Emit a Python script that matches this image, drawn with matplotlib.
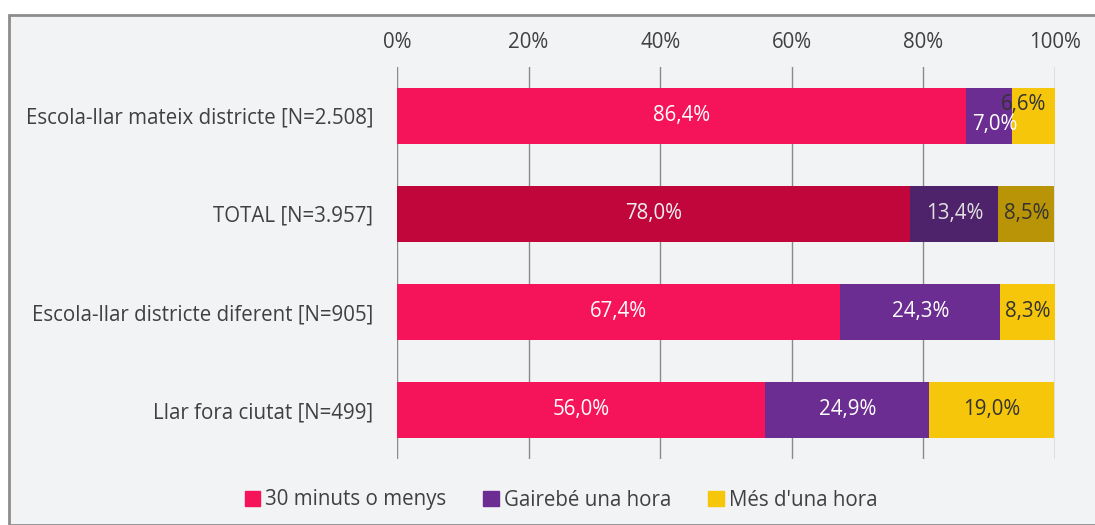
import numpy as np
import matplotlib.pyplot as plt
from matplotlib.patches import Rectangle

plt.rcParams['font.family'] = ['Open Sans', 'DejaVu Sans']

categories = ["Escola-llar mateix districte [N=2.508]", "TOTAL [N=3.957]",
              "Escola-llar districte diferent [N=905]", "Llar fora ciutat [N=499]"]
series = ["30 minuts o menys", "Gairebé una hora", "Més d'una hora"]
menys30 = [86.4, 78.0, 67.4, 56.0]
una_hora = [7.0, 13.4, 24.3, 24.9]
mes_hora = [6.6, 8.5, 8.3, 19.0]
xticks = [0, 20, 40, 60, 80, 100]

colors = ['#f5145a', '#6b2d91', '#f5c60a']
total_colors = ['#c0063a', '#4f236b', '#b89406']
text_colors = ['white', 'white', '#333333']
fs = 14.8

fig = plt.figure(figsize=(10.95, 5.25), dpi=100)
fig.patches.append(Rectangle((9 / 1095, 0), 1.0, 1 - 15 / 525, transform=fig.transFigure,
                             facecolor='#f2f3f5', edgecolor='#8c8c8c', linewidth=2, zorder=-10))
ax = fig.add_axes([397 / 1095, 66 / 525, 658 / 1095, 392 / 525])
ax.set_facecolor('none')

y = np.arange(len(categories))
data = [menys30, una_hora, mes_hora]
left = np.zeros(len(categories))
for i, vals in enumerate(data):
    cols = [total_colors[i] if c.startswith('TOTAL') else colors[i] for c in categories]
    ax.barh(y, vals, left=left, height=0.57, color=cols, label=series[i], zorder=3)
    for j, v in enumerate(vals):
        lab = f"{v:.1f}%".replace('.', ',')
        xc = left[j] + v / 2
        yc = y[j]
        # the two small segments of the first row have shifted labels
        if j == 0 and i == 1:
            yc = y[j] + 0.09
            xc = left[j] + v / 2 + 1.0
        elif j == 0 and i == 2:
            yc = y[j] - 0.12
            xc = left[j] + v / 2 - 1.5
        tc = text_colors[i]
        if categories[j].startswith('TOTAL'):
            tc = ['#f0f0f0', '#e0e0e0', '#333333'][i]
        ax.text(xc, yc, lab, ha='center', va='center', color=tc, fontsize=fs, zorder=5)
    left = left + np.array(vals)

ax.set_xlim(0, 100)
ax.set_ylim(len(categories) - 0.5, -0.5)
ax.set_yticks(y)
ax.set_yticklabels(categories)
ax.set_xticks(xticks)
ax.set_xticklabels([f"{t}%" for t in xticks])
ax.xaxis.tick_top()
ax.tick_params(axis='x', length=0, pad=10, labelsize=fs, labelcolor='#404040')
ax.tick_params(axis='y', length=0, pad=17, labelsize=fs, labelcolor='#404040')
ax.grid(axis='x', color='#8a8a8a', linewidth=1, zorder=1)
for s in ax.spines.values():
    s.set_visible(False)

leg = fig.legend([plt.Rectangle((0, 0), 1, 1, color=c) for c in colors], series,
                 loc='center', bbox_to_anchor=(561 / 1095, 1 - 500 / 525), ncol=3,
                 frameon=False, fontsize=fs, handlelength=0.75, handleheight=0.75,
                 handletextpad=0.25, columnspacing=1.8, labelcolor='#404040')

fig.savefig('out.png', dpi=100, facecolor='white')
